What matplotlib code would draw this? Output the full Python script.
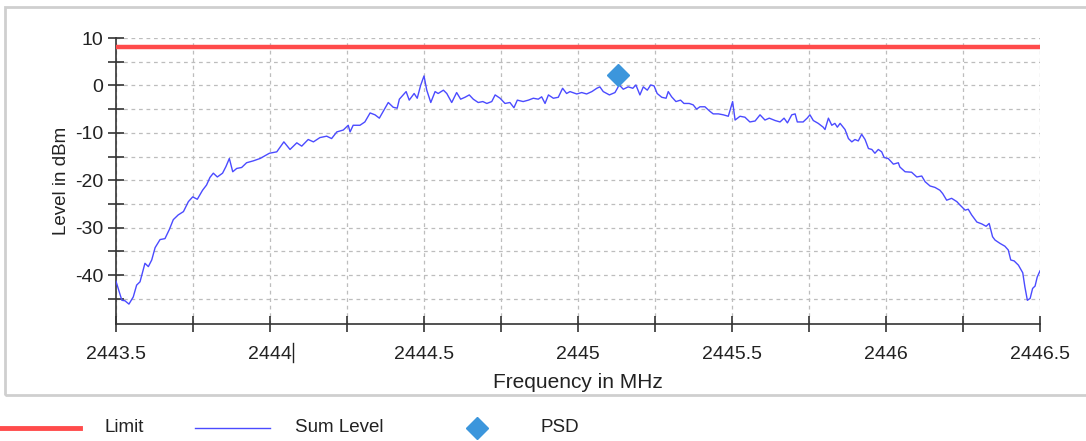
import matplotlib.pyplot as plt
import numpy as np
from matplotlib.lines import Line2D
from matplotlib.patches import Rectangle
from matplotlib.ticker import FixedLocator

plt.rcParams['font.family'] = ['Liberation Sans', 'DejaVu Sans']
plt.rcParams['axes.unicode_minus'] = False

# Sum Level trace
freq = [2443.500, 2443.519, 2443.529, 2443.542, 2443.556, 2443.567, 2443.578, 2443.594,
        2443.605, 2443.616, 2443.627, 2443.643, 2443.659, 2443.673, 2443.686, 2443.702,
        2443.719, 2443.735, 2443.749, 2443.764, 2443.781, 2443.794, 2443.805, 2443.816,
        2443.829, 2443.846, 2443.857, 2443.868, 2443.879, 2443.892, 2443.908, 2443.924,
        2443.946, 2443.968, 2443.998, 2444.022, 2444.045, 2444.065, 2444.087, 2444.103,
        2444.124, 2444.141, 2444.162, 2444.184, 2444.200, 2444.217, 2444.238, 2444.254,
        2444.260, 2444.270, 2444.292, 2444.308, 2444.325, 2444.341, 2444.355, 2444.370,
        2444.384, 2444.400, 2444.413, 2444.420, 2444.442, 2444.452, 2444.468, 2444.478,
        2444.489, 2444.500, 2444.509, 2444.522, 2444.536, 2444.546, 2444.563, 2444.574,
        2444.590, 2444.606, 2444.619, 2444.633, 2444.647, 2444.660, 2444.676, 2444.691,
        2444.704, 2444.720, 2444.731, 2444.747, 2444.763, 2444.779, 2444.792, 2444.803,
        2444.822, 2444.839, 2444.855, 2444.871, 2444.882, 2444.893, 2444.904, 2444.920,
        2444.936, 2444.950, 2444.963, 2444.974, 2444.996, 2445.012, 2445.028, 2445.045,
        2445.061, 2445.071, 2445.082, 2445.102, 2445.120, 2445.134, 2445.147, 2445.163,
        2445.178, 2445.188, 2445.201, 2445.212, 2445.225, 2445.236, 2445.247, 2445.257,
        2445.272, 2445.286, 2445.293, 2445.304, 2445.318, 2445.333, 2445.344, 2445.361,
        2445.374, 2445.385, 2445.396, 2445.412, 2445.429, 2445.439, 2445.456, 2445.472,
        2445.488, 2445.502, 2445.510, 2445.526, 2445.542, 2445.558, 2445.575, 2445.591,
        2445.607, 2445.621, 2445.640, 2445.656, 2445.669, 2445.680, 2445.694, 2445.705,
        2445.712, 2445.731, 2445.744, 2445.753, 2445.764, 2445.780, 2445.796, 2445.802,
        2445.813, 2445.824, 2445.834, 2445.842, 2445.851, 2445.867, 2445.878, 2445.889,
        2445.899, 2445.910, 2445.921, 2445.932, 2445.943, 2445.954, 2445.964, 2445.975,
        2445.986, 2445.994, 2446.007, 2446.024, 2446.040, 2446.045, 2446.062, 2446.083,
        2446.100, 2446.116, 2446.127, 2446.143, 2446.159, 2446.175, 2446.184, 2446.197,
        2446.213, 2446.230, 2446.240, 2446.257, 2446.267, 2446.278, 2446.295, 2446.311,
        2446.325, 2446.335, 2446.346, 2446.354, 2446.370, 2446.386, 2446.397, 2446.405,
        2446.416, 2446.430, 2446.444, 2446.451, 2446.459, 2446.468, 2446.476, 2446.484,
        2446.491, 2446.500]
level = [-41.3, -45.3, -45.4, -46.1, -44.6, -42.1, -41.4, -37.5,
         -38.2, -36.8, -34.2, -32.5, -32.3, -30.4, -28.3, -27.3,
         -26.6, -24.5, -23.5, -24.0, -22.1, -21.0, -19.4, -18.5,
         -19.3, -18.5, -17.1, -15.4, -18.2, -17.5, -17.3, -16.3,
         -15.9, -15.4, -14.3, -14.0, -11.9, -13.5, -12.1, -12.8,
         -11.4, -11.9, -11.0, -10.7, -11.2, -9.8, -9.4, -8.4,
         -9.8, -8.4, -8.4, -7.7, -5.8, -6.2, -6.9, -5.2,
         -3.6, -4.6, -4.8, -2.9, -1.3, -3.1, -1.7, -2.7,
         0.0, 2.0, -1.0, -3.6, -1.3, -1.7, -1.0, -1.7,
         -3.6, -1.5, -2.9, -2.5, -2.0, -2.9, -3.6, -3.4,
         -3.8, -3.4, -2.0, -2.7, -3.8, -3.6, -4.7, -3.1,
         -3.4, -3.1, -2.7, -2.9, -2.4, -3.8, -2.0, -2.7,
         -2.5, -0.6, -1.7, -1.3, -1.8, -1.5, -1.8, -1.3,
         -0.6, -0.3, -1.3, -2.0, -1.5, 0.1, -0.8, -0.3,
         -0.6, 0.1, -2.0, -0.3, -1.0, 0.1, -0.1, -1.7,
         -2.5, -2.7, -1.3, -2.4, -3.4, -3.1, -3.8, -3.8,
         -4.1, -5.0, -4.5, -4.5, -5.5, -6.0, -6.0, -6.2,
         -6.5, -3.4, -7.3, -6.5, -6.7, -7.7, -7.5, -6.2,
         -7.3, -6.9, -7.4, -7.7, -6.9, -7.9, -6.2, -6.0,
         -7.7, -7.7, -6.9, -6.2, -7.4, -8.0, -8.8, -9.3,
         -6.9, -8.4, -8.0, -8.8, -8.0, -9.3, -11.2, -11.9,
         -11.4, -11.7, -10.3, -11.4, -13.3, -13.5, -14.3, -13.5,
         -14.0, -15.2, -15.4, -16.6, -16.3, -17.2, -18.2, -18.3,
         -19.3, -19.1, -20.3, -21.2, -21.5, -22.1, -22.8, -24.2,
         -23.8, -24.5, -25.2, -26.3, -26.1, -27.3, -28.8, -29.2,
         -29.7, -29.1, -31.9, -32.6, -33.3, -33.9, -34.7, -36.8,
         -37.0, -37.9, -39.5, -42.5, -45.3, -44.9, -42.8, -42.3,
         -40.4, -39.1]

limit_freq = [2443.5, 2446.5]
limit_level = [8.0, 8.0]

psd_freq = [2445.13]
psd_level = [2.2]

x_major = [2443.5, 2444.0, 2444.5, 2445.0, 2445.5, 2446.0, 2446.5]
x_minor = [2443.75, 2444.25, 2444.75, 2445.25, 2445.75, 2446.25]
x_labels = ['2443.5', '2444', '2444.5', '2445', '2445.5', '2446', '2446.5']
y_major = [-40, -30, -20, -10, 0, 10]
y_minor = [-45, -35, -25, -15, -5, 5]

legend_labels = ['Limit', 'Sum Level', 'PSD']

red = '#ff4b4b'
blue = '#4b4bff'
psd_col = '#3c96dc'
txt = '#222222'
W, H = 1086, 441

fig = plt.figure(figsize=(W / 100, H / 100), dpi=100)
ax = fig.add_axes([116 / W, 1 - 324 / H, (1040 - 116) / W, (324 - 38) / H])

ax.plot(limit_freq, limit_level, color=red, lw=3.2, solid_capstyle='butt', zorder=3)
ax.plot(freq, level, color=blue, lw=1.0, zorder=4)
ax.plot(psd_freq, psd_level, marker='D', ms=11, color=psd_col, ls='none', zorder=5)

ax.set_xlim(2443.5, 2446.5)
ax.set_ylim(-50.3, 10)
ax.xaxis.set_major_locator(FixedLocator(x_major))
ax.xaxis.set_minor_locator(FixedLocator(x_minor))
ax.set_xticklabels(x_labels)
ax.yaxis.set_major_locator(FixedLocator(y_major))
ax.yaxis.set_minor_locator(FixedLocator(y_minor))

ax.tick_params(which='both', direction='inout', length=12, width=1.2, color='#333333',
               labelsize=14, labelcolor=txt)
ax.tick_params(axis='x', pad=10)
ax.tick_params(axis='y', pad=3)

ax.grid(True, which='both', ls=(0, (3, 3)), color='#bdbdbd', lw=0.9)
for s in ['top', 'right']:
    ax.spines[s].set_visible(False)
for s in ['left', 'bottom']:
    ax.spines[s].set_color('#333333')
    ax.spines[s].set_linewidth(1.2)

ax.set_xlabel('Frequency in MHz', fontsize=15, color=txt, labelpad=7)
ax.set_ylabel('Level in dBm', fontsize=13.5, color=txt, labelpad=4)

# text cursor left after "2444"
fig.add_artist(Line2D([293 / W, 293 / W], [1 - 343 / H, 1 - 362 / H], color=txt, lw=1))

# outer frame
fig.add_artist(Rectangle((5 / W, 1 - 395 / H), 1.0, (395 - 7) / H, fill=False,
                         ec='#cfcfcf', lw=2))

# legend row below the frame
ly = 1 - 428 / H
fig.add_artist(Line2D([0, 80 / W], [ly, ly], color=red, lw=3.5))
fig.text(105 / W, ly, legend_labels[0], fontsize=13.5, va='center', color=txt)
fig.add_artist(Line2D([195 / W, 270 / W], [ly, ly], color=blue, lw=1))
fig.text(295 / W, ly, legend_labels[1], fontsize=13.5, va='center', color=txt)
fig.add_artist(Line2D([477 / W], [ly], marker='D', ms=11, color=psd_col, ls='none'))
fig.text(540 / W, ly, legend_labels[2], fontsize=13.5, va='center', color=txt)

fig.savefig('out.png', dpi=100)
